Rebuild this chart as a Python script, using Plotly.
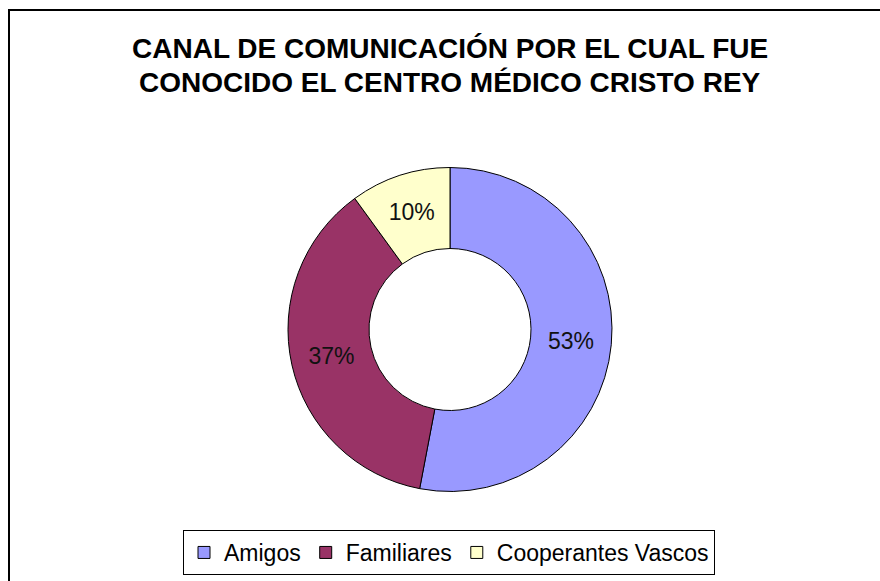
import plotly.graph_objects as go

categories = ["Amigos", "Familiares", "Cooperantes Vascos"]
values = [53, 37, 10]
colors = ["#9999FF", "#993366", "#FFFFCC"]
title_lines = ["CANAL DE COMUNICACIÓN POR EL CUAL FUE", "CONOCIDO EL CENTRO MÉDICO CRISTO REY"]

W, H = 880, 581
cx, cy, r = 450, 329.5, 162

fig = go.Figure(go.Pie(
    labels=categories, values=values, sort=False, direction="clockwise", rotation=0,
    hole=0.5,
    marker=dict(colors=colors, line=dict(color="black", width=1)),
    texttemplate="%{percent:.0%}", textposition="inside", insidetextorientation="horizontal",
    textfont=dict(family="Liberation Sans, Arial", size=23, color="#111111"),
    domain=dict(x=[(cx - r) / W, (cx + r) / W], y=[(H - cy - r) / H, (H - cy + r) / H]),
    hoverinfo="label+percent",
))

annotations = []
for i, line in enumerate(title_lines):
    annotations.append(dict(
        text="<b>%s</b>" % line, x=450 / W, y=1 - (49 + 34 * i) / H,
        xref="paper", yref="paper", showarrow=False, xanchor="center", yanchor="middle",
        font=dict(family="Liberation Sans, Arial", size=28, color="black"),
    ))

fig.update_layout(
    width=W, height=H, margin=dict(l=0, r=0, t=0, b=0),
    paper_bgcolor="white", plot_bgcolor="white",
    annotations=annotations,
    showlegend=True,
    legend=dict(
        orientation="h", x=449 / W, xanchor="center", y=1 - 530 / H, yanchor="top",
        bordercolor="black", borderwidth=1, bgcolor="white",
        font=dict(family="Liberation Sans, Arial", size=23, color="black"),
        itemwidth=30, tracegroupgap=0,
    ),
    shapes=[dict(type="rect", xref="paper", yref="paper",
                 x0=9 / W, x1=1.05, y0=-0.05, y1=1 - 10 / H,
                 line=dict(color="black", width=2), fillcolor="rgba(0,0,0,0)")],
)

fig.write_html("out.html", config={"displayModeBar": False},
               post_script="document.body.style.margin='0px';document.body.style.overflow='hidden';")
